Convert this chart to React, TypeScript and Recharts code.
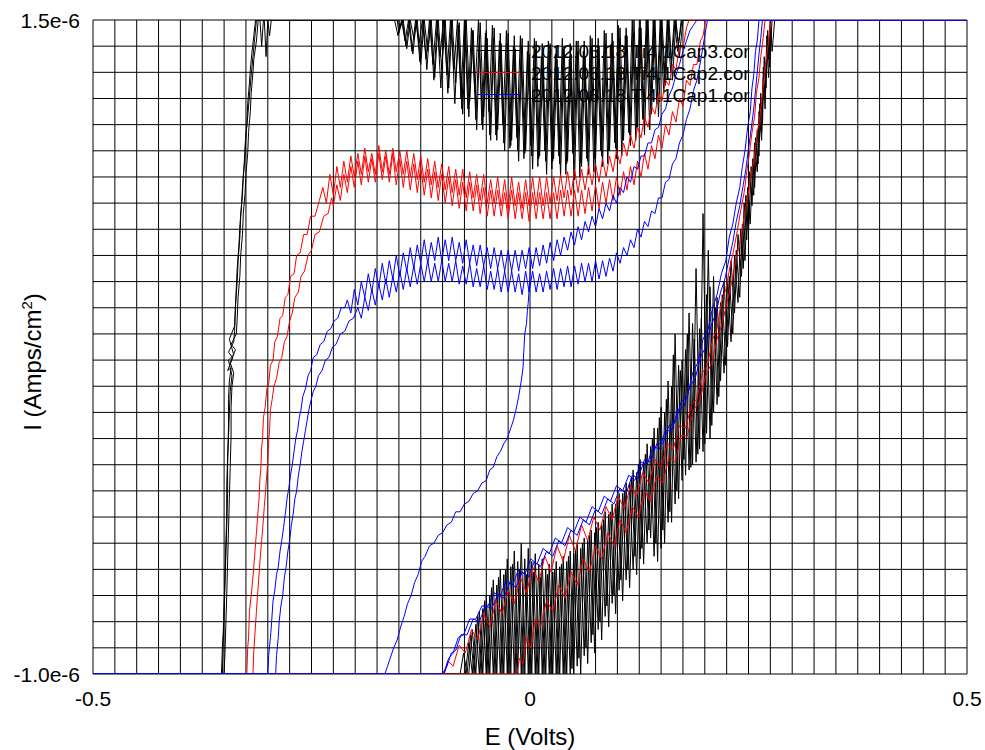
import { LineChart, Line, XAxis, YAxis, CartesianGrid } from 'recharts';

type Pt = [number, number];

// E in volts, I in µA/cm² (axis labels carry the e-6)

// ---- Cap3 (black) ----
const cap3Forward1: Pt[] = [
  [-0.5, -1], [-0.353, -1], [-0.352, -0.9], [-0.351, -0.84], [-0.35, -0.73], [-0.349, -0.62], [-0.348, -0.5],
  [-0.347, -0.4], [-0.347, -0.28], [-0.346, -0.17], [-0.345, -0.06], [-0.345, 0.05], [-0.344, 0.12], [-0.342, 0.17],
  [-0.346, 0.16], [-0.34, 0.21], [-0.345, 0.23], [-0.339, 0.27], [-0.338, 0.31], [-0.337, 0.4], [-0.336, 0.48],
  [-0.335, 0.55], [-0.333, 0.64], [-0.332, 0.71], [-0.33, 0.8], [-0.329, 0.86], [-0.327, 0.95], [-0.326, 1.02],
  [-0.324, 1.1], [-0.323, 1.18], [-0.321, 1.26], [-0.32, 1.31], [-0.318, 1.38], [-0.316, 1.44], [-0.314, 1.5],
  [-0.309, 1.5], [-0.307, 1.4], [-0.305, 1.5], [-0.3, 1.5], [-0.298, 1.44], [-0.296, 1.5], [-0.155, 1.5],
  [-0.151, 1.44], [-0.147, 1.5], [-0.143, 1.42], [-0.139, 1.5], [-0.135, 1.38], [-0.131, 1.5], [-0.127, 1.41],
  [-0.123, 1.5], [-0.119, 1.35], [-0.115, 1.5], [-0.111, 1.33], [-0.107, 1.5], [-0.103, 1.36], [-0.099, 1.5],
  [-0.095, 1.29], [-0.091, 1.5], [-0.087, 1.31], [-0.083, 1.5], [-0.079, 1.2], [-0.075, 1.5], [-0.071, 1.16],
  [-0.067, 1.47], [-0.063, 1.22], [-0.059, 1.5], [-0.055, 1.1], [-0.051, 1.45], [-0.047, 1.15], [-0.043, 1.48],
  [-0.039, 1.06], [-0.035, 1.42], [-0.031, 1.1], [-0.027, 1.46], [-0.023, 1.01], [-0.019, 1.4], [-0.015, 1.05],
  [-0.011, 1.44], [-0.007, 0.97], [-0.003, 1.38], [0.001, 1.02], [0.005, 1.43], [0.009, 0.94], [0.013, 1.36],
  [0.017, 1.0], [0.021, 1.42], [0.025, 0.93], [0.029, 1.37], [0.033, 0.98], [0.037, 1.43], [0.041, 0.91],
  [0.045, 1.35], [0.049, 0.99], [0.053, 1.42], [0.057, 0.9], [0.061, 1.38], [0.065, 0.97], [0.069, 1.44],
  [0.073, 0.92], [0.077, 1.39], [0.081, 1.0], [0.085, 1.46], [0.089, 0.95], [0.093, 1.41], [0.097, 1.03],
  [0.101, 1.48], [0.105, 0.98], [0.109, 1.44], [0.113, 1.07], [0.117, 1.5], [0.121, 1.04], [0.125, 1.47],
  [0.129, 1.12], [0.133, 1.5], [0.137, 1.08], [0.141, 1.5], [0.145, 1.18], [0.149, 1.5], [0.153, 1.22],
  [0.157, 1.5], [0.161, 1.3], [0.165, 1.5], [0.169, 1.38], [0.173, 1.5], [0.5, 1.5],
];

const cap3Reverse1: Pt[] = [
  [0.5, 1.5], [0.277, 1.5], [0.274, 1.32], [0.272, 1.46], [0.27, 1.24], [0.268, 1.36], [0.266, 1.1], [0.264, 1.22],
  [0.262, 0.98], [0.26, 1.08], [0.257, 0.86], [0.255, 0.97], [0.252, 0.72], [0.249, 0.86], [0.246, 0.58],
  [0.243, 0.72], [0.24, 0.44], [0.236, 0.62], [0.232, 0.3], [0.228, 0.52], [0.224, 0.18], [0.22, 0.45],
  [0.216, 0.06], [0.212, 0.4], [0.208, -0.05], [0.204, 0.62], [0.2, -0.12], [0.196, 0.36], [0.192, -0.16],
  [0.188, 0.28], [0.184, -0.21], [0.18, 0.3], [0.176, -0.18], [0.172, 0.16], [0.168, -0.3], [0.164, 0.22],
  [0.16, -0.38], [0.156, 0.05], [0.152, -0.45], [0.148, -0.02], [0.144, -0.5], [0.14, -0.1], [0.136, -0.45],
  [0.132, -0.16], [0.128, -0.52], [0.124, -0.2], [0.12, -0.55], [0.116, -0.25], [0.112, -0.6], [0.108, -0.3],
  [0.104, -0.64], [0.1, -0.33], [0.096, -0.7], [0.092, -0.38], [0.088, -0.74], [0.084, -0.41], [0.08, -0.8],
  [0.076, -0.44], [0.072, -0.85], [0.068, -0.47], [0.064, -0.9], [0.06, -0.5], [0.056, -0.94], [0.052, -0.53],
  [0.048, -0.98], [0.044, -0.55], [0.04, -1], [0.036, -0.58], [0.032, -1], [0.028, -0.6], [0.024, -1],
  [0.02, -0.62], [0.016, -1], [0.012, -0.63], [0.008, -1], [0.004, -0.61], [0.0, -1], [-0.004, -0.62],
  [-0.008, -1], [-0.012, -0.6], [-0.016, -1], [-0.02, -0.58], [-0.024, -1], [-0.028, -0.6], [-0.032, -1],
  [-0.036, -0.63], [-0.04, -1], [-0.044, -0.67], [-0.048, -1], [-0.052, -0.72], [-0.056, -1], [-0.06, -0.78],
  [-0.064, -1], [-0.068, -0.85], [-0.072, -1], [-0.076, -0.92], [-0.08, -1], [-0.5, -1],
];

const cap3Forward2: Pt[] = [
  [-0.5, -1], [-0.35, -1], [-0.349, -0.92], [-0.348, -0.81], [-0.347, -0.7], [-0.346, -0.57], [-0.345, -0.45],
  [-0.344, -0.33], [-0.343, -0.21], [-0.342, -0.09], [-0.342, 0.02], [-0.341, 0.1], [-0.339, 0.15], [-0.343, 0.19],
  [-0.337, 0.24], [-0.342, 0.26], [-0.336, 0.3], [-0.335, 0.36], [-0.334, 0.44], [-0.332, 0.52], [-0.331, 0.6],
  [-0.329, 0.68], [-0.328, 0.76], [-0.326, 0.84], [-0.325, 0.91], [-0.323, 0.99], [-0.322, 1.07], [-0.32, 1.15],
  [-0.319, 1.22], [-0.317, 1.3], [-0.316, 1.35], [-0.313, 1.42], [-0.311, 1.5], [-0.304, 1.5], [-0.302, 1.36],
  [-0.3, 1.5], [-0.15, 1.5],
  [-0.149, 1.47], [-0.145, 1.5], [-0.141, 1.39], [-0.137, 1.5], [-0.133, 1.43], [-0.129, 1.5], [-0.125, 1.33],
  [-0.121, 1.5], [-0.117, 1.38], [-0.113, 1.5], [-0.109, 1.28], [-0.105, 1.5], [-0.101, 1.31], [-0.097, 1.5],
  [-0.093, 1.24], [-0.089, 1.5], [-0.085, 1.26], [-0.081, 1.49], [-0.077, 1.14], [-0.073, 1.5], [-0.069, 1.19],
  [-0.065, 1.46], [-0.061, 1.08], [-0.057, 1.49], [-0.053, 1.13], [-0.049, 1.43], [-0.045, 1.04], [-0.041, 1.47],
  [-0.037, 1.08], [-0.033, 1.41], [-0.029, 1.0], [-0.025, 1.45], [-0.021, 1.04], [-0.017, 1.39], [-0.013, 0.96],
  [-0.009, 1.43], [-0.005, 1.0], [-0.001, 1.37], [0.003, 0.93], [0.007, 1.42], [0.011, 0.98], [0.015, 1.36],
  [0.019, 0.91], [0.023, 1.41], [0.027, 0.97], [0.031, 1.35], [0.035, 0.9], [0.039, 1.4], [0.043, 0.96],
  [0.047, 1.37], [0.051, 0.89], [0.055, 1.42], [0.059, 0.94], [0.063, 1.36], [0.067, 0.91], [0.071, 1.43],
  [0.075, 0.97], [0.079, 1.4], [0.083, 0.94], [0.087, 1.45], [0.091, 1.0], [0.095, 1.42], [0.099, 0.97],
  [0.103, 1.47], [0.107, 1.04], [0.111, 1.44], [0.115, 1.02], [0.119, 1.5], [0.123, 1.09], [0.127, 1.47],
  [0.131, 1.06], [0.135, 1.5], [0.139, 1.14], [0.143, 1.5], [0.147, 1.13], [0.151, 1.5], [0.155, 1.25],
  [0.159, 1.5], [0.163, 1.27], [0.167, 1.5], [0.171, 1.36], [0.175, 1.5], [0.5, 1.5],
];

const cap3Reverse2: Pt[] = [
  [0.5, 1.5], [0.28, 1.5], [0.277, 1.38], [0.275, 1.5], [0.273, 1.28], [0.271, 1.4], [0.269, 1.16], [0.267, 1.28],
  [0.265, 1.04], [0.262, 1.15], [0.26, 0.92], [0.257, 1.03], [0.254, 0.79], [0.251, 0.92], [0.248, 0.66],
  [0.245, 0.8], [0.242, 0.52], [0.238, 0.68], [0.234, 0.38], [0.23, 0.58], [0.226, 0.25], [0.222, 0.5],
  [0.218, 0.12], [0.214, 0.44], [0.21, 0.0], [0.206, 0.48], [0.202, -0.08], [0.198, 0.76], [0.194, -0.14],
  [0.19, 0.55], [0.186, -0.2], [0.182, 0.38], [0.178, -0.24], [0.174, 0.2], [0.17, -0.33], [0.166, 0.3],
  [0.162, -0.42], [0.158, 0.12], [0.154, -0.5], [0.15, 0.02], [0.146, -0.57], [0.142, -0.06], [0.138, -0.48],
  [0.134, -0.12], [0.13, -0.58], [0.126, -0.18], [0.122, -0.62], [0.118, -0.22], [0.114, -0.67], [0.11, -0.27],
  [0.106, -0.72], [0.102, -0.31], [0.098, -0.77], [0.094, -0.35], [0.09, -0.82], [0.086, -0.38], [0.082, -0.87],
  [0.078, -0.42], [0.074, -0.92], [0.07, -0.45], [0.066, -0.96], [0.062, -0.48], [0.058, -1], [0.054, -0.5],
  [0.05, -1], [0.046, -0.53], [0.042, -1], [0.038, -0.55], [0.034, -1], [0.03, -0.57], [0.026, -1],
  [0.022, -0.58], [0.018, -1], [0.014, -0.56], [0.01, -1], [0.006, -0.54], [0.002, -1], [-0.002, -0.52],
  [-0.006, -1], [-0.01, -0.5], [-0.014, -1], [-0.018, -0.53], [-0.022, -1], [-0.026, -0.56], [-0.03, -1],
  [-0.034, -0.6], [-0.038, -1], [-0.042, -0.64], [-0.046, -1], [-0.05, -0.7], [-0.054, -1], [-0.058, -0.76],
  [-0.062, -1], [-0.066, -0.83], [-0.07, -1], [-0.5, -1],
];

const cap3Forward3: Pt[] = [
  [-0.5, -1], [-0.352, -1], [-0.351, -0.88], [-0.35, -0.78], [-0.349, -0.66], [-0.348, -0.55], [-0.347, -0.44],
  [-0.346, -0.31], [-0.346, -0.2], [-0.345, -0.1], [-0.344, 0.0], [-0.343, 0.08], [-0.341, 0.14], [-0.345, 0.2],
  [-0.339, 0.22], [-0.344, 0.28], [-0.338, 0.33], [-0.337, 0.41], [-0.335, 0.5], [-0.334, 0.58], [-0.332, 0.67],
  [-0.331, 0.75], [-0.329, 0.83], [-0.328, 0.9], [-0.326, 0.98], [-0.325, 1.06], [-0.323, 1.13], [-0.321, 1.21],
  [-0.319, 1.29], [-0.317, 1.36], [-0.315, 1.43], [-0.313, 1.5], [-0.152, 1.5],
  [-0.15, 1.45], [-0.146, 1.5], [-0.142, 1.4], [-0.138, 1.5], [-0.134, 1.37], [-0.13, 1.5], [-0.126, 1.34],
  [-0.122, 1.5], [-0.118, 1.31], [-0.114, 1.5], [-0.11, 1.27], [-0.106, 1.5], [-0.102, 1.24], [-0.098, 1.5],
  [-0.094, 1.22], [-0.09, 1.5], [-0.086, 1.18], [-0.082, 1.48], [-0.078, 1.16], [-0.074, 1.5], [-0.07, 1.13],
  [-0.066, 1.46], [-0.062, 1.12], [-0.058, 1.44], [-0.054, 1.08], [-0.05, 1.46], [-0.046, 1.06], [-0.042, 1.43],
  [-0.038, 1.04], [-0.034, 1.45], [-0.03, 1.03], [-0.026, 1.41], [-0.022, 1.02], [-0.018, 1.44], [-0.014, 1.0],
  [-0.01, 1.4], [-0.006, 0.99], [-0.002, 1.42], [0.002, 0.98], [0.006, 1.39], [0.01, 0.97], [0.014, 1.41],
  [0.018, 0.96], [0.022, 1.38], [0.026, 0.96], [0.03, 1.4], [0.034, 0.95], [0.038, 1.39], [0.042, 0.95],
  [0.046, 1.41], [0.05, 0.95], [0.054, 1.38], [0.058, 0.96], [0.062, 1.42], [0.066, 0.96], [0.07, 1.4],
  [0.074, 0.97], [0.078, 1.43], [0.082, 0.98], [0.086, 1.41], [0.09, 1.0], [0.094, 1.45], [0.098, 1.01],
  [0.102, 1.43], [0.106, 1.04], [0.11, 1.47], [0.114, 1.06], [0.118, 1.45], [0.122, 1.09], [0.126, 1.5],
  [0.13, 1.12], [0.134, 1.5], [0.138, 1.16], [0.142, 1.5], [0.146, 1.2], [0.15, 1.5], [0.154, 1.26],
  [0.158, 1.5], [0.162, 1.33], [0.166, 1.5], [0.17, 1.41], [0.174, 1.5], [0.5, 1.5],
];

const cap3Reverse3: Pt[] = [
  [0.5, 1.5], [0.275, 1.5], [0.273, 1.35], [0.271, 1.44], [0.269, 1.2], [0.267, 1.32], [0.265, 1.07], [0.263, 1.18],
  [0.261, 0.95], [0.258, 1.05], [0.256, 0.83], [0.253, 0.94], [0.25, 0.69], [0.247, 0.83], [0.244, 0.55],
  [0.241, 0.7], [0.238, 0.42], [0.234, 0.6], [0.23, 0.27], [0.226, 0.5], [0.222, 0.15], [0.218, 0.42],
  [0.214, 0.03], [0.21, 0.52], [0.206, -0.1], [0.202, 0.45], [0.198, -0.15], [0.194, 0.32], [0.19, -0.19],
  [0.186, 0.34], [0.182, -0.22], [0.178, 0.24], [0.174, -0.26], [0.17, 0.18], [0.166, -0.35], [0.162, 0.1],
  [0.158, -0.42], [0.154, 0.0], [0.15, -0.52], [0.146, -0.06], [0.142, -0.55], [0.138, -0.13], [0.134, -0.5],
  [0.13, -0.19], [0.126, -0.56], [0.122, -0.23], [0.118, -0.6], [0.114, -0.27], [0.11, -0.64], [0.106, -0.31],
  [0.102, -0.68], [0.098, -0.35], [0.094, -0.73], [0.09, -0.39], [0.086, -0.78], [0.082, -0.43], [0.078, -0.83],
  [0.074, -0.46], [0.07, -0.88], [0.066, -0.49], [0.062, -0.93], [0.058, -0.52], [0.054, -0.97], [0.05, -0.54],
  [0.046, -1], [0.042, -0.57], [0.038, -1], [0.034, -0.59], [0.03, -1], [0.026, -0.61], [0.022, -1],
  [0.018, -0.6], [0.014, -1], [0.01, -0.58], [0.006, -1], [0.002, -0.57], [-0.002, -1], [-0.006, -0.56],
  [-0.01, -1], [-0.014, -0.57], [-0.018, -1], [-0.022, -0.59], [-0.026, -1], [-0.03, -0.62], [-0.034, -1],
  [-0.038, -0.66], [-0.042, -1], [-0.046, -0.7], [-0.05, -1], [-0.054, -0.75], [-0.058, -1], [-0.062, -0.81],
  [-0.066, -1], [-0.07, -0.88], [-0.074, -1], [-0.5, -1],
];

// ---- Cap2 (red) ----
const cap2Forward1: Pt[] = [
  [-0.5, -1], [-0.324, -1], [-0.323, -0.9], [-0.322, -0.86], [-0.321, -0.76], [-0.319, -0.7], [-0.317, -0.63],
  [-0.316, -0.59], [-0.314, -0.5], [-0.313, -0.46], [-0.311, -0.37], [-0.31, -0.33], [-0.309, -0.25], [-0.308, -0.22],
  [-0.307, -0.13], [-0.306, -0.1], [-0.305, -0.02], [-0.303, 0.02], [-0.301, 0.09], [-0.299, 0.11], [-0.297, 0.18],
  [-0.294, 0.2], [-0.292, 0.27], [-0.289, 0.29], [-0.286, 0.36], [-0.283, 0.37], [-0.28, 0.44], [-0.277, 0.45],
  [-0.274, 0.52], [-0.27, 0.53], [-0.267, 0.6], [-0.263, 0.61], [-0.259, 0.68], [-0.255, 0.68], [-0.251, 0.75],
  [-0.246, 0.75], [-0.241, 0.81],
  [-0.237, 0.86], [-0.233, 0.8], [-0.229, 0.91], [-0.225, 0.83], [-0.221, 0.94], [-0.217, 0.86], [-0.213, 0.96],
  [-0.209, 0.88], [-0.205, 0.98], [-0.201, 0.9], [-0.197, 0.99], [-0.193, 0.91], [-0.189, 1.01], [-0.185, 0.92],
  [-0.181, 0.99], [-0.177, 0.91], [-0.173, 1.02], [-0.169, 0.92], [-0.165, 1.0], [-0.161, 0.91], [-0.157, 1.01],
  [-0.153, 0.92], [-0.149, 1.0], [-0.145, 0.91], [-0.141, 1.0], [-0.137, 0.9], [-0.133, 0.99], [-0.129, 0.89],
  [-0.125, 0.98], [-0.121, 0.88], [-0.117, 0.97], [-0.113, 0.87], [-0.109, 0.96], [-0.105, 0.86], [-0.101, 0.95],
  [-0.097, 0.85], [-0.093, 0.94], [-0.089, 0.84], [-0.085, 0.93], [-0.081, 0.83], [-0.077, 0.93], [-0.073, 0.82],
  [-0.069, 0.92], [-0.065, 0.82], [-0.061, 0.91], [-0.057, 0.81], [-0.053, 0.91], [-0.049, 0.8], [-0.045, 0.89],
  [-0.041, 0.8], [-0.037, 0.9], [-0.033, 0.79], [-0.029, 0.89], [-0.025, 0.78], [-0.021, 0.9], [-0.017, 0.79],
  [-0.013, 0.88], [-0.009, 0.78], [-0.005, 0.89], [-0.001, 0.79], [0.003, 0.9], [0.007, 0.79], [0.011, 0.9],
  [0.015, 0.79], [0.019, 0.9], [0.023, 0.8], [0.027, 0.9], [0.031, 0.81], [0.035, 0.91], [0.039, 0.82],
  [0.043, 0.92], [0.047, 0.83], [0.051, 0.93], [0.055, 0.84], [0.059, 0.93], [0.063, 0.85], [0.067, 0.94],
  [0.071, 0.87], [0.075, 0.95], [0.079, 0.88], [0.083, 0.97], [0.087, 0.9], [0.091, 0.98], [0.095, 0.92],
  [0.099, 1.0], [0.103, 0.95], [0.107, 1.03], [0.111, 0.98], [0.115, 1.06], [0.119, 1.01], [0.123, 1.09],
  [0.127, 1.05], [0.131, 1.13], [0.135, 1.09], [0.139, 1.17], [0.143, 1.14], [0.147, 1.22], [0.151, 1.19],
  [0.155, 1.27], [0.159, 1.25], [0.163, 1.33], [0.167, 1.31], [0.171, 1.4], [0.175, 1.39], [0.179, 1.47],
  [0.182, 1.5], [0.5, 1.5],
];

const cap2Reverse1: Pt[] = [
  [0.5, 1.5], [0.269, 1.5], [0.266, 1.41], [0.264, 1.36], [0.262, 1.28], [0.259, 1.22], [0.257, 1.13], [0.254, 1.07],
  [0.251, 0.99], [0.248, 0.92], [0.245, 0.84], [0.241, 0.77], [0.237, 0.69], [0.233, 0.62], [0.229, 0.56],
  [0.224, 0.47], [0.219, 0.42], [0.214, 0.32], [0.209, 0.28], [0.203, 0.18], [0.197, 0.15], [0.191, 0.05],
  [0.185, 0.03], [0.178, -0.06], [0.171, -0.05], [0.164, -0.14], [0.157, -0.12], [0.15, -0.21], [0.143, -0.18],
  [0.136, -0.27], [0.129, -0.23], [0.122, -0.32], [0.115, -0.28], [0.108, -0.37], [0.101, -0.32], [0.094, -0.41],
  [0.087, -0.36], [0.08, -0.45], [0.073, -0.4], [0.066, -0.49], [0.059, -0.43], [0.052, -0.53], [0.045, -0.47],
  [0.038, -0.57], [0.031, -0.51], [0.024, -0.61], [0.017, -0.55], [0.01, -0.65], [0.003, -0.59], [-0.004, -0.69],
  [-0.011, -0.63], [-0.018, -0.73], [-0.025, -0.68], [-0.032, -0.77], [-0.039, -0.72], [-0.046, -0.82],
  [-0.053, -0.77], [-0.06, -0.87], [-0.067, -0.83], [-0.074, -0.92], [-0.081, -0.89], [-0.088, -0.97],
  [-0.094, -0.95], [-0.098, -1], [-0.5, -1],
];

const cap2Forward2: Pt[] = [
  [-0.5, -1], [-0.317, -1], [-0.316, -0.91], [-0.315, -0.86], [-0.313, -0.76], [-0.312, -0.71], [-0.31, -0.62],
  [-0.309, -0.57], [-0.307, -0.49], [-0.306, -0.45], [-0.304, -0.36], [-0.303, -0.32], [-0.301, -0.23], [-0.3, -0.19],
  [-0.299, -0.11], [-0.298, -0.07], [-0.297, 0.01], [-0.295, 0.05], [-0.293, 0.1], [-0.29, 0.13], [-0.287, 0.19],
  [-0.284, 0.21], [-0.281, 0.27], [-0.278, 0.29], [-0.275, 0.35], [-0.272, 0.38], [-0.269, 0.44], [-0.265, 0.46],
  [-0.262, 0.52], [-0.258, 0.54], [-0.254, 0.6], [-0.25, 0.62], [-0.246, 0.68], [-0.241, 0.69], [-0.236, 0.75],
  [-0.231, 0.76], [-0.227, 0.82],
  [-0.225, 0.79], [-0.221, 0.87], [-0.217, 0.81], [-0.213, 0.91], [-0.209, 0.84], [-0.205, 0.94], [-0.201, 0.86],
  [-0.197, 0.96], [-0.193, 0.87], [-0.189, 0.98], [-0.185, 0.88], [-0.181, 0.97], [-0.177, 0.88], [-0.173, 0.99],
  [-0.169, 0.89], [-0.165, 0.98], [-0.161, 0.88], [-0.157, 0.99], [-0.153, 0.87], [-0.149, 0.97], [-0.145, 0.86],
  [-0.141, 0.96], [-0.137, 0.85], [-0.133, 0.95], [-0.129, 0.84], [-0.125, 0.94], [-0.121, 0.83], [-0.117, 0.93],
  [-0.113, 0.82], [-0.109, 0.92], [-0.105, 0.81], [-0.101, 0.91], [-0.097, 0.8], [-0.093, 0.9], [-0.089, 0.79],
  [-0.085, 0.89], [-0.081, 0.78], [-0.077, 0.88], [-0.073, 0.77], [-0.069, 0.88], [-0.065, 0.77], [-0.061, 0.87],
  [-0.057, 0.76], [-0.053, 0.86], [-0.049, 0.75], [-0.045, 0.85], [-0.041, 0.75], [-0.037, 0.85], [-0.033, 0.75],
  [-0.029, 0.84], [-0.025, 0.74], [-0.021, 0.85], [-0.017, 0.74], [-0.013, 0.84], [-0.009, 0.74], [-0.005, 0.84],
  [-0.001, 0.73], [0.003, 0.84], [0.007, 0.74], [0.011, 0.84], [0.015, 0.74], [0.019, 0.84], [0.023, 0.74],
  [0.027, 0.84], [0.031, 0.74], [0.035, 0.85], [0.039, 0.75], [0.043, 0.85], [0.047, 0.75], [0.051, 0.85],
  [0.055, 0.75], [0.059, 0.85], [0.063, 0.76], [0.067, 0.86], [0.071, 0.77], [0.075, 0.87], [0.079, 0.78],
  [0.083, 0.88], [0.087, 0.8], [0.091, 0.89], [0.095, 0.81], [0.099, 0.9], [0.103, 0.83], [0.107, 0.92],
  [0.111, 0.85], [0.115, 0.94], [0.119, 0.87], [0.123, 0.96], [0.127, 0.9], [0.131, 0.99], [0.135, 0.93],
  [0.139, 1.02], [0.143, 0.97], [0.147, 1.06], [0.151, 1.01], [0.155, 1.1], [0.159, 1.06], [0.163, 1.15],
  [0.167, 1.11], [0.171, 1.2], [0.175, 1.17], [0.179, 1.27], [0.183, 1.25], [0.187, 1.33], [0.191, 1.33],
  [0.195, 1.42], [0.198, 1.44], [0.201, 1.5], [0.5, 1.5],
];

const cap2Reverse2: Pt[] = [
  [0.5, 1.5], [0.276, 1.5], [0.273, 1.42], [0.271, 1.37], [0.268, 1.28], [0.266, 1.22], [0.263, 1.13], [0.26, 1.07],
  [0.257, 0.98], [0.253, 0.91], [0.249, 0.82], [0.245, 0.75], [0.241, 0.66], [0.236, 0.59], [0.231, 0.5],
  [0.226, 0.43], [0.22, 0.34], [0.214, 0.28], [0.208, 0.19], [0.201, 0.14], [0.194, 0.04], [0.187, 0.01],
  [0.18, -0.09], [0.173, -0.09], [0.166, -0.19], [0.159, -0.17], [0.152, -0.27], [0.145, -0.24], [0.138, -0.34],
  [0.131, -0.3], [0.124, -0.4], [0.117, -0.36], [0.11, -0.46], [0.103, -0.41], [0.096, -0.51], [0.089, -0.46],
  [0.082, -0.56], [0.075, -0.51], [0.068, -0.61], [0.061, -0.56], [0.054, -0.66], [0.047, -0.61], [0.04, -0.71],
  [0.033, -0.66], [0.026, -0.76], [0.019, -0.72], [0.012, -0.82], [0.006, -0.79], [0.001, -0.9], [-0.004, -0.86],
  [-0.008, -0.96], [-0.012, -0.94], [-0.015, -1], [-0.5, -1],
];

// ---- Cap1 (blue) ----
const cap1Start: Pt[] = [
  [0.001, 0.58], [0.0, 0.52], [-0.001, 0.47], [-0.002, 0.42], [-0.003, 0.39], [-0.004, 0.34], [-0.006, 0.3],
  [-0.007, 0.24], [-0.008, 0.17], [-0.01, 0.12], [-0.013, 0.06], [-0.016, 0.01], [-0.019, -0.03], [-0.022, -0.06],
  [-0.026, -0.1], [-0.03, -0.12], [-0.034, -0.15], [-0.038, -0.17], [-0.042, -0.21], [-0.046, -0.22], [-0.05, -0.26],
  [-0.055, -0.27], [-0.06, -0.3], [-0.065, -0.31], [-0.07, -0.34], [-0.075, -0.35], [-0.08, -0.38], [-0.085, -0.38],
  [-0.09, -0.42], [-0.095, -0.43], [-0.1, -0.46], [-0.105, -0.47], [-0.11, -0.5], [-0.115, -0.51], [-0.12, -0.55],
  [-0.124, -0.57], [-0.128, -0.62], [-0.132, -0.65], [-0.136, -0.7], [-0.14, -0.73], [-0.144, -0.78], [-0.148, -0.82],
  [-0.152, -0.87], [-0.156, -0.9], [-0.16, -0.94], [-0.163, -0.97], [-0.166, -1], [-0.5, -1],
];

const cap1Forward1: Pt[] = [
  [-0.5, -1], [-0.3, -1], [-0.299, -0.93], [-0.297, -0.86], [-0.296, -0.82], [-0.294, -0.72], [-0.292, -0.68],
  [-0.29, -0.62], [-0.288, -0.59], [-0.286, -0.53], [-0.284, -0.49], [-0.282, -0.44], [-0.28, -0.39], [-0.278, -0.33],
  [-0.276, -0.29], [-0.274, -0.24], [-0.272, -0.2], [-0.27, -0.15], [-0.268, -0.1], [-0.266, -0.07], [-0.264, -0.02],
  [-0.262, 0.01], [-0.26, 0.06], [-0.257, 0.09], [-0.254, 0.14], [-0.251, 0.16], [-0.248, 0.21], [-0.244, 0.22],
  [-0.24, 0.26], [-0.236, 0.27], [-0.232, 0.31], [-0.228, 0.32], [-0.224, 0.35], [-0.22, 0.36], [-0.216, 0.4],
  [-0.212, 0.4],
  [-0.209, 0.43], [-0.205, 0.38], [-0.201, 0.47], [-0.197, 0.41], [-0.193, 0.5], [-0.189, 0.44], [-0.185, 0.53],
  [-0.181, 0.46], [-0.177, 0.55], [-0.173, 0.48], [-0.169, 0.57], [-0.165, 0.49], [-0.161, 0.58], [-0.157, 0.51],
  [-0.153, 0.6], [-0.149, 0.52], [-0.145, 0.61], [-0.141, 0.54], [-0.137, 0.63], [-0.133, 0.55], [-0.129, 0.64],
  [-0.125, 0.57], [-0.121, 0.66], [-0.117, 0.57], [-0.113, 0.65], [-0.109, 0.58], [-0.105, 0.67], [-0.101, 0.58],
  [-0.097, 0.66], [-0.093, 0.58], [-0.089, 0.67], [-0.085, 0.58], [-0.081, 0.65], [-0.077, 0.57], [-0.073, 0.66],
  [-0.069, 0.57], [-0.065, 0.64], [-0.061, 0.56], [-0.057, 0.64], [-0.053, 0.56], [-0.049, 0.63], [-0.045, 0.55],
  [-0.041, 0.63], [-0.037, 0.55], [-0.033, 0.62], [-0.029, 0.54], [-0.025, 0.62], [-0.021, 0.54], [-0.017, 0.62],
  [-0.013, 0.54], [-0.009, 0.62], [-0.005, 0.55], [-0.001, 0.63], [0.003, 0.55], [0.007, 0.63], [0.011, 0.56],
  [0.015, 0.64], [0.019, 0.57], [0.023, 0.65], [0.027, 0.58], [0.031, 0.66], [0.035, 0.6], [0.039, 0.67],
  [0.043, 0.62], [0.047, 0.69], [0.051, 0.64], [0.055, 0.71], [0.059, 0.66], [0.063, 0.73], [0.067, 0.69],
  [0.071, 0.75], [0.075, 0.71], [0.079, 0.78], [0.083, 0.74], [0.087, 0.8], [0.091, 0.77], [0.095, 0.83],
  [0.099, 0.8], [0.103, 0.86], [0.107, 0.84], [0.111, 0.9], [0.115, 0.88], [0.119, 0.94], [0.123, 0.93],
  [0.127, 0.98], [0.131, 0.98], [0.135, 1.03], [0.139, 1.03], [0.143, 1.08], [0.147, 1.09], [0.151, 1.14],
  [0.155, 1.16], [0.159, 1.21], [0.163, 1.24], [0.167, 1.29], [0.171, 1.33], [0.175, 1.38], [0.179, 1.42],
  [0.183, 1.46], [0.187, 1.48], [0.191, 1.5], [0.5, 1.5],
];

const cap1Reverse1: Pt[] = [
  [0.5, 1.5], [0.262, 1.5], [0.26, 1.42], [0.258, 1.38], [0.256, 1.29], [0.254, 1.24], [0.252, 1.15], [0.249, 1.09],
  [0.246, 1.0], [0.243, 0.94], [0.24, 0.86], [0.236, 0.8], [0.232, 0.72], [0.228, 0.67], [0.224, 0.58], [0.219, 0.53],
  [0.214, 0.45], [0.209, 0.4], [0.204, 0.32], [0.198, 0.28], [0.192, 0.19], [0.186, 0.15], [0.18, 0.06],
  [0.173, 0.04], [0.166, -0.04], [0.159, -0.05], [0.152, -0.12], [0.145, -0.12], [0.138, -0.19], [0.131, -0.18],
  [0.124, -0.25], [0.117, -0.24], [0.11, -0.31], [0.103, -0.29], [0.096, -0.35], [0.089, -0.33], [0.082, -0.39],
  [0.075, -0.37], [0.068, -0.43], [0.061, -0.41], [0.054, -0.47], [0.047, -0.45], [0.04, -0.51], [0.033, -0.49],
  [0.026, -0.55], [0.019, -0.53], [0.012, -0.59], [0.005, -0.57], [-0.002, -0.63], [-0.009, -0.61], [-0.016, -0.67],
  [-0.023, -0.65], [-0.03, -0.71], [-0.037, -0.7], [-0.044, -0.75], [-0.051, -0.74], [-0.058, -0.8], [-0.065, -0.79],
  [-0.072, -0.85], [-0.079, -0.85], [-0.085, -0.91], [-0.09, -0.92], [-0.095, -0.97], [-0.099, -1], [-0.5, -1],
];

const cap1Forward2: Pt[] = [
  [-0.5, -1], [-0.291, -1], [-0.29, -0.93], [-0.288, -0.86], [-0.287, -0.8], [-0.285, -0.74], [-0.283, -0.7],
  [-0.281, -0.63], [-0.279, -0.59], [-0.277, -0.53], [-0.275, -0.49], [-0.273, -0.43], [-0.271, -0.39], [-0.269, -0.33],
  [-0.267, -0.3], [-0.265, -0.24], [-0.263, -0.2], [-0.261, -0.15], [-0.259, -0.11], [-0.257, -0.07], [-0.255, -0.03],
  [-0.253, 0.01], [-0.251, 0.04], [-0.248, 0.08], [-0.245, 0.1], [-0.242, 0.14], [-0.238, 0.16], [-0.234, 0.2],
  [-0.23, 0.21], [-0.226, 0.25], [-0.222, 0.26], [-0.217, 0.3], [-0.212, 0.31], [-0.207, 0.35], [-0.202, 0.36],
  [-0.197, 0.4],
  [-0.193, 0.36], [-0.189, 0.44], [-0.185, 0.39], [-0.181, 0.47], [-0.177, 0.41], [-0.173, 0.49], [-0.169, 0.43],
  [-0.165, 0.51], [-0.161, 0.44], [-0.157, 0.52], [-0.153, 0.46], [-0.149, 0.54], [-0.145, 0.47], [-0.141, 0.55],
  [-0.137, 0.48], [-0.133, 0.56], [-0.129, 0.49], [-0.125, 0.57], [-0.121, 0.5], [-0.117, 0.58], [-0.113, 0.5],
  [-0.109, 0.57], [-0.105, 0.5], [-0.101, 0.58], [-0.097, 0.5], [-0.093, 0.57], [-0.089, 0.5], [-0.085, 0.58],
  [-0.081, 0.49], [-0.077, 0.56], [-0.073, 0.49], [-0.069, 0.57], [-0.065, 0.48], [-0.061, 0.55], [-0.057, 0.48],
  [-0.053, 0.56], [-0.049, 0.47], [-0.045, 0.54], [-0.041, 0.47], [-0.037, 0.55], [-0.033, 0.46], [-0.029, 0.54],
  [-0.025, 0.46], [-0.021, 0.54], [-0.017, 0.46], [-0.013, 0.53], [-0.009, 0.45], [-0.005, 0.54], [-0.001, 0.46],
  [0.003, 0.54], [0.007, 0.46], [0.011, 0.53], [0.015, 0.46], [0.019, 0.54], [0.023, 0.47], [0.027, 0.55],
  [0.031, 0.47], [0.035, 0.55], [0.039, 0.48], [0.043, 0.56], [0.047, 0.48], [0.051, 0.56], [0.055, 0.49],
  [0.059, 0.57], [0.063, 0.5], [0.067, 0.57], [0.071, 0.5], [0.075, 0.58], [0.079, 0.51], [0.083, 0.58],
  [0.087, 0.52], [0.091, 0.59], [0.095, 0.54], [0.099, 0.61], [0.103, 0.57], [0.107, 0.63], [0.111, 0.6],
  [0.115, 0.66], [0.119, 0.63], [0.123, 0.7], [0.127, 0.67], [0.131, 0.73], [0.135, 0.71], [0.139, 0.77],
  [0.143, 0.76], [0.147, 0.82], [0.151, 0.82], [0.155, 0.88], [0.159, 0.89], [0.163, 0.95], [0.167, 0.97],
  [0.171, 1.03], [0.175, 1.06], [0.179, 1.12], [0.183, 1.16], [0.187, 1.23], [0.191, 1.27], [0.195, 1.34],
  [0.198, 1.4], [0.201, 1.46], [0.203, 1.5], [0.5, 1.5],
];

const cap1Reverse2: Pt[] = [
  [0.5, 1.5], [0.266, 1.5], [0.264, 1.43], [0.262, 1.37], [0.26, 1.3], [0.258, 1.23], [0.256, 1.16], [0.253, 1.08],
  [0.25, 1.01], [0.247, 0.93], [0.244, 0.87], [0.24, 0.79], [0.236, 0.73], [0.232, 0.65], [0.228, 0.59], [0.223, 0.51],
  [0.218, 0.46], [0.213, 0.38], [0.207, 0.33], [0.201, 0.25], [0.195, 0.21], [0.189, 0.13], [0.183, 0.1],
  [0.176, 0.02], [0.169, 0.01], [0.162, -0.07], [0.155, -0.07], [0.148, -0.14], [0.141, -0.13], [0.134, -0.2],
  [0.127, -0.19], [0.12, -0.26], [0.113, -0.24], [0.106, -0.3], [0.099, -0.28], [0.092, -0.34], [0.085, -0.32],
  [0.078, -0.38], [0.071, -0.36], [0.064, -0.42], [0.057, -0.4], [0.05, -0.46], [0.043, -0.44], [0.036, -0.5],
  [0.029, -0.48], [0.022, -0.54], [0.015, -0.52], [0.008, -0.58], [0.001, -0.56], [-0.006, -0.62], [-0.013, -0.6],
  [-0.02, -0.66], [-0.027, -0.64], [-0.034, -0.7], [-0.041, -0.69], [-0.048, -0.74], [-0.055, -0.74], [-0.062, -0.79],
  [-0.069, -0.79], [-0.076, -0.85], [-0.082, -0.86], [-0.088, -0.92], [-0.093, -0.94], [-0.097, -0.98], [-0.1, -1],
  [-0.5, -1],
];

// axis ticks and labels
const xLabelValues = [-0.5, 0, 0.5];
const xLabelText = ['-0.5', '0', '0.5'];
const yLabelValues = [-1, 1.5];
const yLabelText = ['-1.0e-6', '1.5e-6'];
const X_GRID_STEP = 0.025;
const Y_GRID_STEP = 0.1;

const xGridTicks = Array.from({ length: 41 }, (_, i) => Number((-0.5 + i * X_GRID_STEP).toFixed(3)));
const yGridTicks = Array.from({ length: 26 }, (_, i) => Number((-1 + i * Y_GRID_STEP).toFixed(2)));

const legendItems = [
  { name: '2012.06.18 Ti4.1Cap3.cor', color: '#000000' },
  { name: '2012.06.18 Ti4.1Cap2.cor', color: '#ff0000' },
  { name: '2012.06.18 Ti4.1Cap1.cor', color: '#0000ff' },
];

const toRows = (...segments: Pt[][]) => segments.flat().map(([E, I]) => ({ E, I }));

const cap3Data = toRows(cap3Forward1, cap3Reverse1, cap3Forward2, cap3Reverse2, cap3Forward3, cap3Reverse3);
const cap2Data = toRows(cap2Forward1, cap2Reverse1, cap2Forward2, cap2Reverse2);
const cap1Data = toRows(cap1Start, cap1Forward1, cap1Reverse1, cap1Forward2, cap1Reverse2);

const FONT = '"Liberation Sans", Arial, sans-serif';

const XTick = ({ x, y, payload }: any) => {
  const i = xLabelValues.findIndex((v) => Math.abs(v - payload.value) < 1e-9);
  if (i < 0) return <g />;
  return (
    <text x={x} y={y + 32} textAnchor="middle" fontSize={21} fill="#000" fontFamily={FONT}>
      {xLabelText[i]}
    </text>
  );
};

const YTick = ({ x, y, payload }: any) => {
  const i = yLabelValues.findIndex((v) => Math.abs(v - payload.value) < 1e-9);
  if (i < 0) return <g />;
  return (
    <text x={x - 13} y={y + 8} textAnchor="end" fontSize={21} fill="#000" fontFamily={FONT}>
      {yLabelText[i]}
    </text>
  );
};

export default function App() {
  return (
    <div style={{ position: 'absolute', left: 0, top: 0, width: 985, height: 750, background: '#fff' }}>
      <LineChart width={985} height={750} margin={{ top: 20, right: 18, bottom: 0, left: 0 }}>
        <CartesianGrid stroke="#000" strokeWidth={1} />
        <XAxis
          type="number"
          dataKey="E"
          domain={[-0.5, 0.5]}
          ticks={xGridTicks}
          interval={0}
          height={76}
          tick={<XTick />}
          tickLine={false}
          tickSize={0}
          tickMargin={0}
          axisLine={false}
          allowDataOverflow
        />
        <YAxis
          type="number"
          domain={[-1, 1.5]}
          ticks={yGridTicks}
          interval={0}
          width={93}
          tick={<YTick />}
          tickLine={false}
          tickSize={0}
          tickMargin={0}
          axisLine={false}
          allowDataOverflow
        />
        <Line data={cap3Data} dataKey="I" stroke="#000000" strokeWidth={1} dot={false} activeDot={false} isAnimationActive={false} />
        <Line data={cap2Data} dataKey="I" stroke="#ff0000" strokeWidth={1} dot={false} activeDot={false} isAnimationActive={false} />
        <Line data={cap1Data} dataKey="I" stroke="#0000ff" strokeWidth={1} dot={false} activeDot={false} isAnimationActive={false} />
      </LineChart>

      {/* legend and axis titles */}
      <svg
        width={985}
        height={750}
        style={{ position: 'absolute', left: 0, top: 0, pointerEvents: 'none' }}
        fontFamily={FONT}
      >
        {legendItems.map((item, i) => (
          <g key={item.name}>
            <line x1={477} x2={520} y1={50.5 + i * 22} y2={50.5 + i * 22} stroke={item.color} strokeWidth={1} />
            <text x={531} y={57.5 + i * 22} fontSize={19} fill="#000">
              {item.name}
            </text>
          </g>
        ))}
        <text x={530} y={745} textAnchor="middle" fontSize={24} fill="#000">
          E (Volts)
        </text>
        <text transform="translate(41,362) rotate(-90)" textAnchor="middle" fontSize={24} fill="#000">
          I (Amps/cm
          <tspan dy={-9} fontSize={15}>2</tspan>
          <tspan dy={9}>)</tspan>
        </text>
      </svg>
    </div>
  );
}
